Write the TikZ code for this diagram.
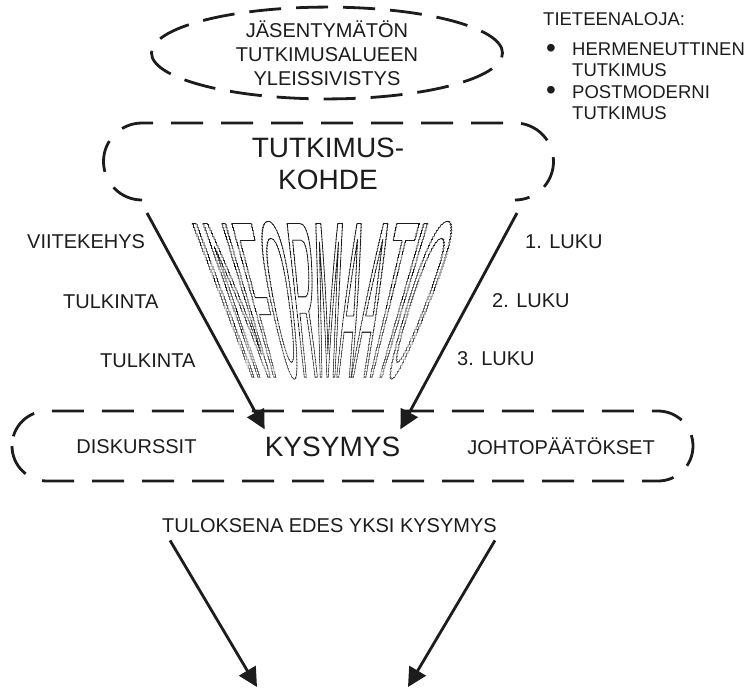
\documentclass[tikz,border=0pt]{standalone}
\usepackage{fontspec}
\setmainfont{Liberation Sans}
\newfontfamily\infofont[FakeStretch=0.181]{Liberation Sans}
\usetikzlibrary{arrows.meta,shapes.geometric}
\definecolor{ink}{HTML}{1C1C1C}
\newcommand\hollow[1]{\special{pdf:literal direct 1 Tr 0.8 w}#1\special{pdf:literal direct 0 Tr}}
\tikzset{
  lbl/.style={font=\fontsize{20}{24}\selectfont, text=ink, inner sep=0pt},
  big/.style={font=\fontsize{28}{32}\selectfont, text=ink, inner sep=0pt},
  small/.style={font=\fontsize{18.5}{21}\selectfont, text=ink, inner sep=0pt},
  arr/.style={-{Triangle[length=19pt,width=19pt]}, line width=2.8pt, draw=ink},
  dashline/.style={line width=2.8pt, draw=ink, dash pattern=on 32pt off 18pt},
}
\begin{document}
\begin{tikzpicture}[x=1pt,y=-1pt]
\useasboundingbox (0,0) rectangle (747,689);

% Yleissivistys
\node[ellipse, dashline, dash pattern=on 32pt off 15pt, lbl, align=center,
  minimum width=351pt, minimum height=88pt] (yleis) at (327,53)
  {JÄSENTYMÄTÖN\\TUTKIMUSALUEEN\\YLEISSIVISTYS};

% Tieteenaloja
\node[small, anchor=base west] (tiet) at (543,25) {TIETEENALOJA:};
\node[small, font=\fontsize{28}{28}\selectfont, anchor=base] (b1) at (551,57) {\textbullet};
\node[small, anchor=north west, align=left] (herm) at (572,43) {HERMENEUTTINEN\\TUTKIMUS};
\node[small, font=\fontsize{28}{28}\selectfont, anchor=base] (b2) at (551,99) {\textbullet};
\node[small, anchor=north west, align=left] (post) at (572,85) {POSTMODERNI\\TUTKIMUS};

% Tutkimuskohde
\node[big, align=center] (kohde) at (328,164) {TUTKIMUS-\\KOHDE};
\draw[dashline] (142,200) arc[start angle=90, end angle=270, radius=38.5]
  -- (515,123) arc[start angle=-90, end angle=90, radius=38.5];
\coordinate (kohdeL) at (147,213);
\coordinate (kohdeR) at (517,213);

% Informaatio
\foreach \k in {0,...,56}{
  \pgfmathsetmacro\ya{212+3*\k}
  \pgfmathsetmacro\s{1-0.457*(\ya+1.5-218)/159}
  \begin{scope}
    \clip (150,\ya) rectangle (500,\ya+3.2);
    \node[anchor=base, inner sep=0pt, xscale=\s, text=ink,
      font=\infofont\fontsize{223}{223}\selectfont] (info\k) at (325.5,377)
      {\hollow{INFORMAATIO}};
  \end{scope}
}

% Labels
\node[lbl, anchor=base west] (viite) at (27,248) {VIITEKEHYS};
\node[lbl, anchor=base west] (tulk1) at (63,308) {TULKINTA};
\node[lbl, anchor=base west] (tulk2) at (100,367) {TULKINTA};
\node[lbl, anchor=base west] (luku1) at (525,248) {1. LUKU};
\node[lbl, anchor=base west] (luku2) at (492,307) {2. LUKU};
\node[lbl, anchor=base west] (luku3) at (457,365) {3. LUKU};

% Kysymys
\draw[dashline, rounded corners=35pt] (12,411) rectangle (693,481);
\node[lbl, anchor=base] (disk) at (136.5,453) {DISKURSSIT};
\node[big, anchor=base, inner ysep=7pt] (kysymys) at (332.5,456) {KYSYMYS};
\node[lbl, anchor=base] (johto) at (561,454) {JOHTOPÄÄTÖKSET};
\draw[arr] (kohdeL) -- (kysymys.north west);
\draw[arr] (kohdeR) -- (kysymys.north east);

% Tulos
\node[lbl, anchor=base] (tulos) at (329.5,532) {TULOKSENA EDES YKSI KYSYMYS};
\coordinate (loppuL) at (257,687);
\coordinate (loppuR) at (408,687);
\draw[arr] ([xshift=8pt,yshift=-8pt]tulos.south west) -- (loppuL);
\draw[arr] ([xshift=-2pt,yshift=-8pt]tulos.south east) -- (loppuR);
\end{tikzpicture}
\end{document}
